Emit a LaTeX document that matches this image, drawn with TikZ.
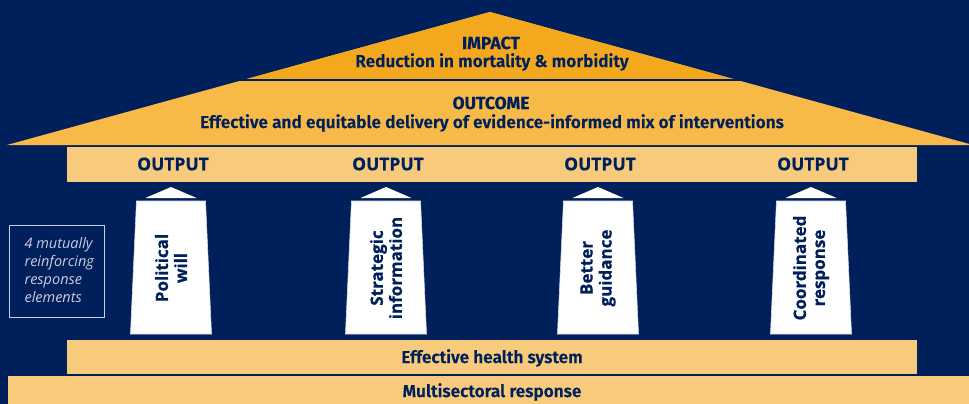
\documentclass[tikz,border=0pt]{standalone}
\usepackage{fontspec}
\setmainfont{Open Sans}[BoldFeatures={FakeBold=0.8}]
\newfontfamily\firasb{Fira Sans SemiBold}[FakeBold=0.3]
\newfontfamily\firab{Fira Sans}[BoldFeatures={FakeBold=0.3}]
\definecolor{navy}{RGB}{0,32,91}
\definecolor{impactc}{RGB}{243,168,30}
\definecolor{outcomec}{RGB}{247,185,72}
\definecolor{barc}{RGB}{247,203,123}
\definecolor{boxtext}{RGB}{200,205,225}
\tikzset{
  bar/.style={fill=barc},
  pillarbody/.style={fill=white, draw=white!85!navy, line width=0.6pt},
  pillartip/.style={fill=white},
  pillartext/.style={text=navy, rotate=90, align=center, font=\fontsize{17}{19}\selectfont\bfseries},
  outtext/.style={text=navy, font=\fontsize{17.5}{20}\selectfont\bfseries},
  rooftitle/.style={text=navy, font=\firab\fontsize{17.5}{19}\selectfont\bfseries},
  roofbody/.style={text=navy, font=\firasb\fontsize{17.2}{19}\selectfont},
  bartext/.style={text=navy, font=\firasb\fontsize{17.2}{19}\selectfont},
}
\begin{document}
\begin{tikzpicture}[x=1pt,y=-1pt]
\fill[navy] (0,0) rectangle (969,404);
\useasboundingbox (0,0) rectangle (969,404);
% roof
\fill[outcomec] (490,12) -- (7,145) -- (973,145) -- cycle;
\begin{scope}
  \clip (0,0) rectangle (969,80);
  \fill[impactc] (490,12) -- (7,145) -- (973,145) -- cycle;
\end{scope}
\draw[navy, line width=2pt] (200,80) -- (780,80);
\node[rooftitle] (impact) at (491,43) {IMPACT};
\node[roofbody] (impactt) at (492,62) {Reduction in mortality \& morbidity};
\node[rooftitle] (outcome) at (491,103) {OUTCOME};
\node[roofbody] (outcomet) at (492,123) {Effective and equitable delivery of evidence-informed mix of interventions};
% output bar
\fill[bar] (67,147) rectangle (917,182);
% bottom bars
\fill[bar] (67,340) rectangle (917,374);
\fill[bar] (8,376) rectangle (969,404);
\node[bartext] (hs) at (492,358) {Effective health system};
\node[bartext] (ms) at (492,392) {Multisectoral response};
% pillars
\foreach \cx/\lab/\nm in {171/{Political\\will}/p1, 386/{Strategic\\information}/p2, 598/{Better\\guidance}/p3, 811/{Coordinated\\response}/p4}{
  \fill[pillartip] (\cx,187) -- (\cx-25.5,198) -- (\cx+25.5,198) -- cycle;
  \draw[pillarbody] (\cx-34.5,201) -- (\cx+34.5,201) -- (\cx+40.5,334) -- (\cx-40.5,334) -- cycle;
  \node[pillartext] (\nm) at (\cx,268) {\lab};
  \node[outtext] (o\nm) at (\cx+2,164) {OUTPUT};
}
% left box
\node[draw=boxtext, line width=0.8pt, minimum width=95pt, minimum height=92pt, inner sep=0pt] (box) at (56.5,271) {};
\node[text=boxtext, align=left, anchor=west, font=\fontsize{14.5}{18}\selectfont\itshape] (boxt) at (21,270) {4 mutually\\reinforcing\\response\\elements};
\end{tikzpicture}
\end{document}
